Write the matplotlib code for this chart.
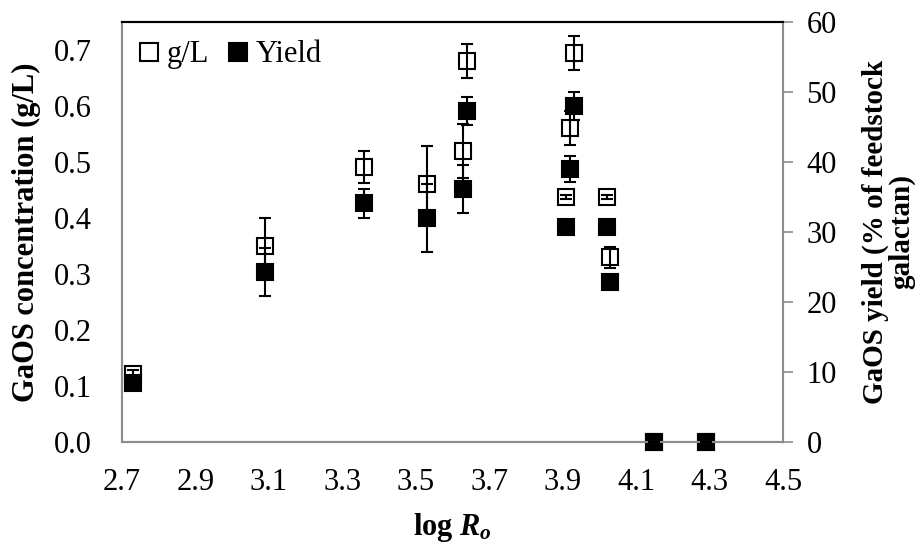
import matplotlib
matplotlib.use('Agg')
import matplotlib.pyplot as plt
import numpy as np

plt.rcParams['font.family'] = ['Liberation Serif', 'DejaVu Serif']
plt.rcParams['mathtext.fontset'] = 'custom'
plt.rcParams['mathtext.rm'] = 'Liberation Serif:bold'
plt.rcParams['mathtext.it'] = 'Liberation Serif:bold:italic'
plt.rcParams['mathtext.bf'] = 'Liberation Serif:bold'

# GaOS concentration (g/L), open squares, left axis
conc_x = [2.73, 3.09, 3.36, 3.53, 3.64, 3.63, 3.93, 3.92, 3.91, 4.02, 4.03, 4.15, 4.29]
conc_y = [0.121, 0.35, 0.491, 0.461, 0.680, 0.520, 0.695, 0.561, 0.4375, 0.4375, 0.330, 0.0, 0.0]
conc_err = [0.008, 0.05, 0.029, 0.068, 0.030, 0.048, 0.030, 0.030, 0.003, 0.003, 0.019, 0.0, 0.0]

# GaOS yield (% of feedstock galactan), filled squares, right axis
yield_x = [2.73, 3.09, 3.36, 3.53, 3.64, 3.63, 3.93, 3.92, 3.91, 4.02, 4.03, 4.15, 4.29]
yield_y = [8.4, 24.3, 34.1, 32.0, 47.3, 36.1, 48.0, 39.0, 30.7, 30.7, 22.9, 0.0, 0.0]
yield_err = [0.6, 3.4, 2.1, 4.9, 2.0, 3.4, 2.0, 1.9, 0.0, 0.0, 0.5, 0.0, 0.0]

x_ticks = [2.7, 2.9, 3.1, 3.3, 3.5, 3.7, 3.9, 4.1, 4.3, 4.5]

grey = '#8c8c8c'
fs = 22

fig = plt.figure(figsize=(9.15, 5.43), dpi=100)
ax = fig.add_axes([0.1333, 0.186, 0.7224, 0.7735])
ax2 = ax.twinx()

ms = 12
cap = 4.5
# open squares with error bars drawn over them
h1, = ax.plot(conc_x, conc_y, 's', ms=ms, mfc='white', mec='black', mew=1.5,
              zorder=2, clip_on=False, label='g/L')
ax.errorbar(conc_x, conc_y, yerr=conc_err, fmt='none', ecolor='black',
            elinewidth=1.5, capsize=cap, capthick=1.5, zorder=3)

h2, = ax2.plot(yield_x, yield_y, 's', ms=ms, mfc='black', mec='black', mew=1.5,
               zorder=2, clip_on=False, label='Yield')
ax2.errorbar(yield_x, yield_y, yerr=yield_err, fmt='none', ecolor='black',
             elinewidth=1.5, capsize=cap, capthick=1.5, zorder=3)

ax.set_xlim(2.7, 4.5)
ax.set_ylim(0, 0.75)
ax2.set_ylim(0, 60)
ax.set_xticks(x_ticks)
ax.set_xticklabels(['%.1f' % t for t in x_ticks])
ax.set_yticks(np.arange(0, 0.71, 0.1))
ax.set_yticklabels(['%.1f' % t for t in np.arange(0, 0.71, 0.1)])
ax2.set_yticks(np.arange(0, 61, 10))

ax.tick_params(axis='x', length=0, pad=19, labelsize=fs)
ax.tick_params(axis='y', length=0, pad=22, labelsize=fs)
ax2.tick_params(axis='y', length=7, width=1.2, color=grey, direction='out',
                pad=10, labelsize=fs)

for a in (ax, ax2):
    for s in ['left', 'bottom', 'right']:
        a.spines[s].set_color(grey)
        a.spines[s].set_linewidth(1.5)
    a.spines['top'].set_color('black')
    a.spines['top'].set_linewidth(1.5)

ax.set_ylabel('GaOS concentration (g/L)', fontsize=fs, fontweight='bold', labelpad=9)
ax2.set_ylabel('GaOS yield (% of feedstock\ngalactan)', fontsize=fs - 1,
               fontweight='bold', rotation=90, labelpad=18, linespacing=0.95)
ax.set_xlabel(r'log $R_o$', fontsize=fs, fontweight='bold', labelpad=10)

ax2.legend(handles=[h1, h2], loc='upper left', frameon=False, fontsize=fs,
           ncol=2, handlelength=0.55, handletextpad=0.3, columnspacing=0.7,
           borderaxespad=0.2, markerscale=1.12, bbox_to_anchor=(0.0, 1.0))

fig.savefig('out.png', dpi=100)
